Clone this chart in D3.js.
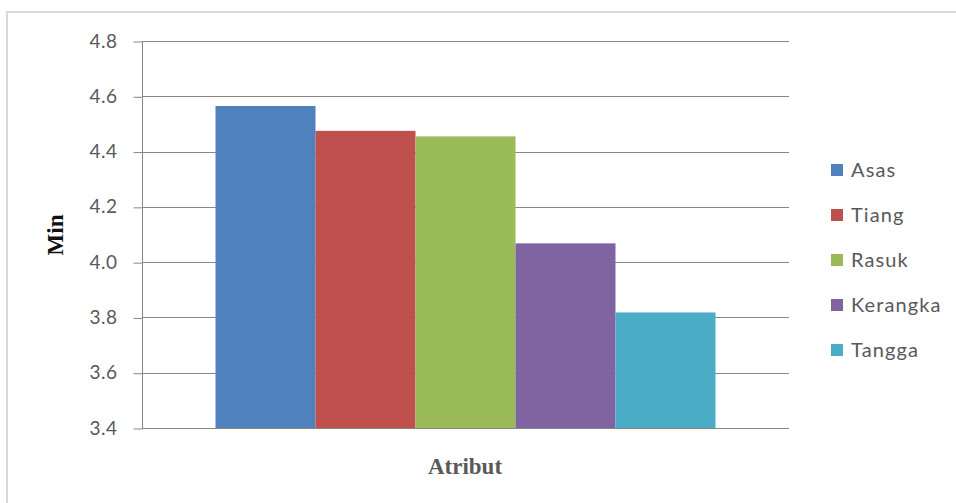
<!DOCTYPE html>
<html><head><meta charset="utf-8">
<script src="https://cdn.jsdelivr.net/npm/d3@7"></script>
<style>
html,body{margin:0;padding:0;background:#fff;}
svg{display:block;}
</style></head>
<body>
<script>
const categories = ["Atribut"];
const seriesNames = ["Asas", "Tiang", "Rasuk", "Kerangka", "Tangga"];
const seriesValues = [4.565, 4.475, 4.455, 4.068, 3.818];
const seriesColors = ["#4f81bd", "#c0504d", "#9bbb59", "#8064a2", "#4bacc6"];
const yTicks = [3.4, 3.6, 3.8, 4.0, 4.2, 4.4, 4.6, 4.8];
const yTitle = "Min";
const xTitle = "Atribut";

const W = 956, H = 503;
const svg = d3.select("body").append("svg").attr("width", W).attr("height", H);

// outer border
svg.append("rect").attr("x", 7).attr("y", 12).attr("width", W + 10).attr("height", H + 10)
  .attr("fill", "#fff").attr("stroke", "#d9d9d9").attr("stroke-width", 2);

const plot = {left: 142, right: 789, top: 41, bottom: 428};
const y = d3.scaleLinear().domain([3.4, 4.8]).range([plot.bottom, plot.top]);
const xCat = d3.scaleBand().domain(categories).range([plot.left, plot.right])
  .paddingInner(0).paddingOuter(0.147);
const xSer = d3.scaleBand().domain(seriesNames).range([0, xCat.bandwidth()]).padding(0);

// gridlines
svg.append("g").selectAll("line").data(yTicks).join("line")
  .attr("x1", plot.left).attr("x2", plot.right)
  .attr("y1", d => Math.round(y(d)) + 0.5).attr("y2", d => Math.round(y(d)) + 0.5)
  .attr("stroke", "#878787").attr("stroke-width", 1);

// bars
const data = seriesNames.map((s, i) => ({name: s, value: seriesValues[i], color: seriesColors[i]}));
svg.append("g").selectAll("rect").data(data).join("rect")
  .attr("x", d => xCat(categories[0]) + xSer(d.name))
  .attr("width", xSer.bandwidth())
  .attr("y", d => y(d.value))
  .attr("height", d => y(3.4) - y(d.value))
  .attr("fill", d => d.color);

// y axis
const yAxis = d3.axisLeft(y).tickValues(yTicks).tickFormat(d3.format(".1f"))
  .tickSize(9).tickPadding(16);
const gy = svg.append("g").attr("transform", `translate(${plot.left + 0.5},0)`).call(yAxis);
gy.select(".domain").attr("stroke", "#878787").attr("d", `M0,${plot.top}V${plot.bottom + 0.5}`);
gy.selectAll(".tick line").attr("stroke", "#878787").attr("transform", "translate(0,0.5)");
gy.selectAll(".tick text").attr("fill", "#595959")
  .style("font-family", "Lato, 'Open Sans', sans-serif").style("font-size", "19px")
  .style("letter-spacing", "0.5px");

// axis titles
svg.append("text").attr("x", 465).attr("y", 474).attr("text-anchor", "middle")
  .style("font-family", "'Liberation Serif', 'DejaVu Serif', serif").style("font-weight", "bold")
  .style("font-size", "23px").attr("fill", "#595959").text(xTitle);
svg.append("text").attr("transform", "translate(63,235) rotate(-90)").attr("text-anchor", "middle")
  .style("font-family", "'Liberation Serif', 'DejaVu Serif', serif").style("font-weight", "bold")
  .style("font-size", "23px").attr("fill", "#111").text(yTitle);

// legend
const lg = svg.append("g").selectAll("g").data(data).join("g")
  .attr("transform", (d, i) => `translate(831,${170 + i * 45})`);
lg.append("rect").attr("x", 0).attr("y", -6).attr("width", 12).attr("height", 12)
  .attr("fill", d => d.color);
lg.append("text").attr("x", 20).attr("y", 0).attr("dy", "0.36em")
  .style("font-family", "Lato, 'Open Sans', sans-serif").style("font-size", "20px")
  .style("letter-spacing", "1.1px")
  .attr("fill", "#595959").text(d => d.name);
</script>
</body></html>
